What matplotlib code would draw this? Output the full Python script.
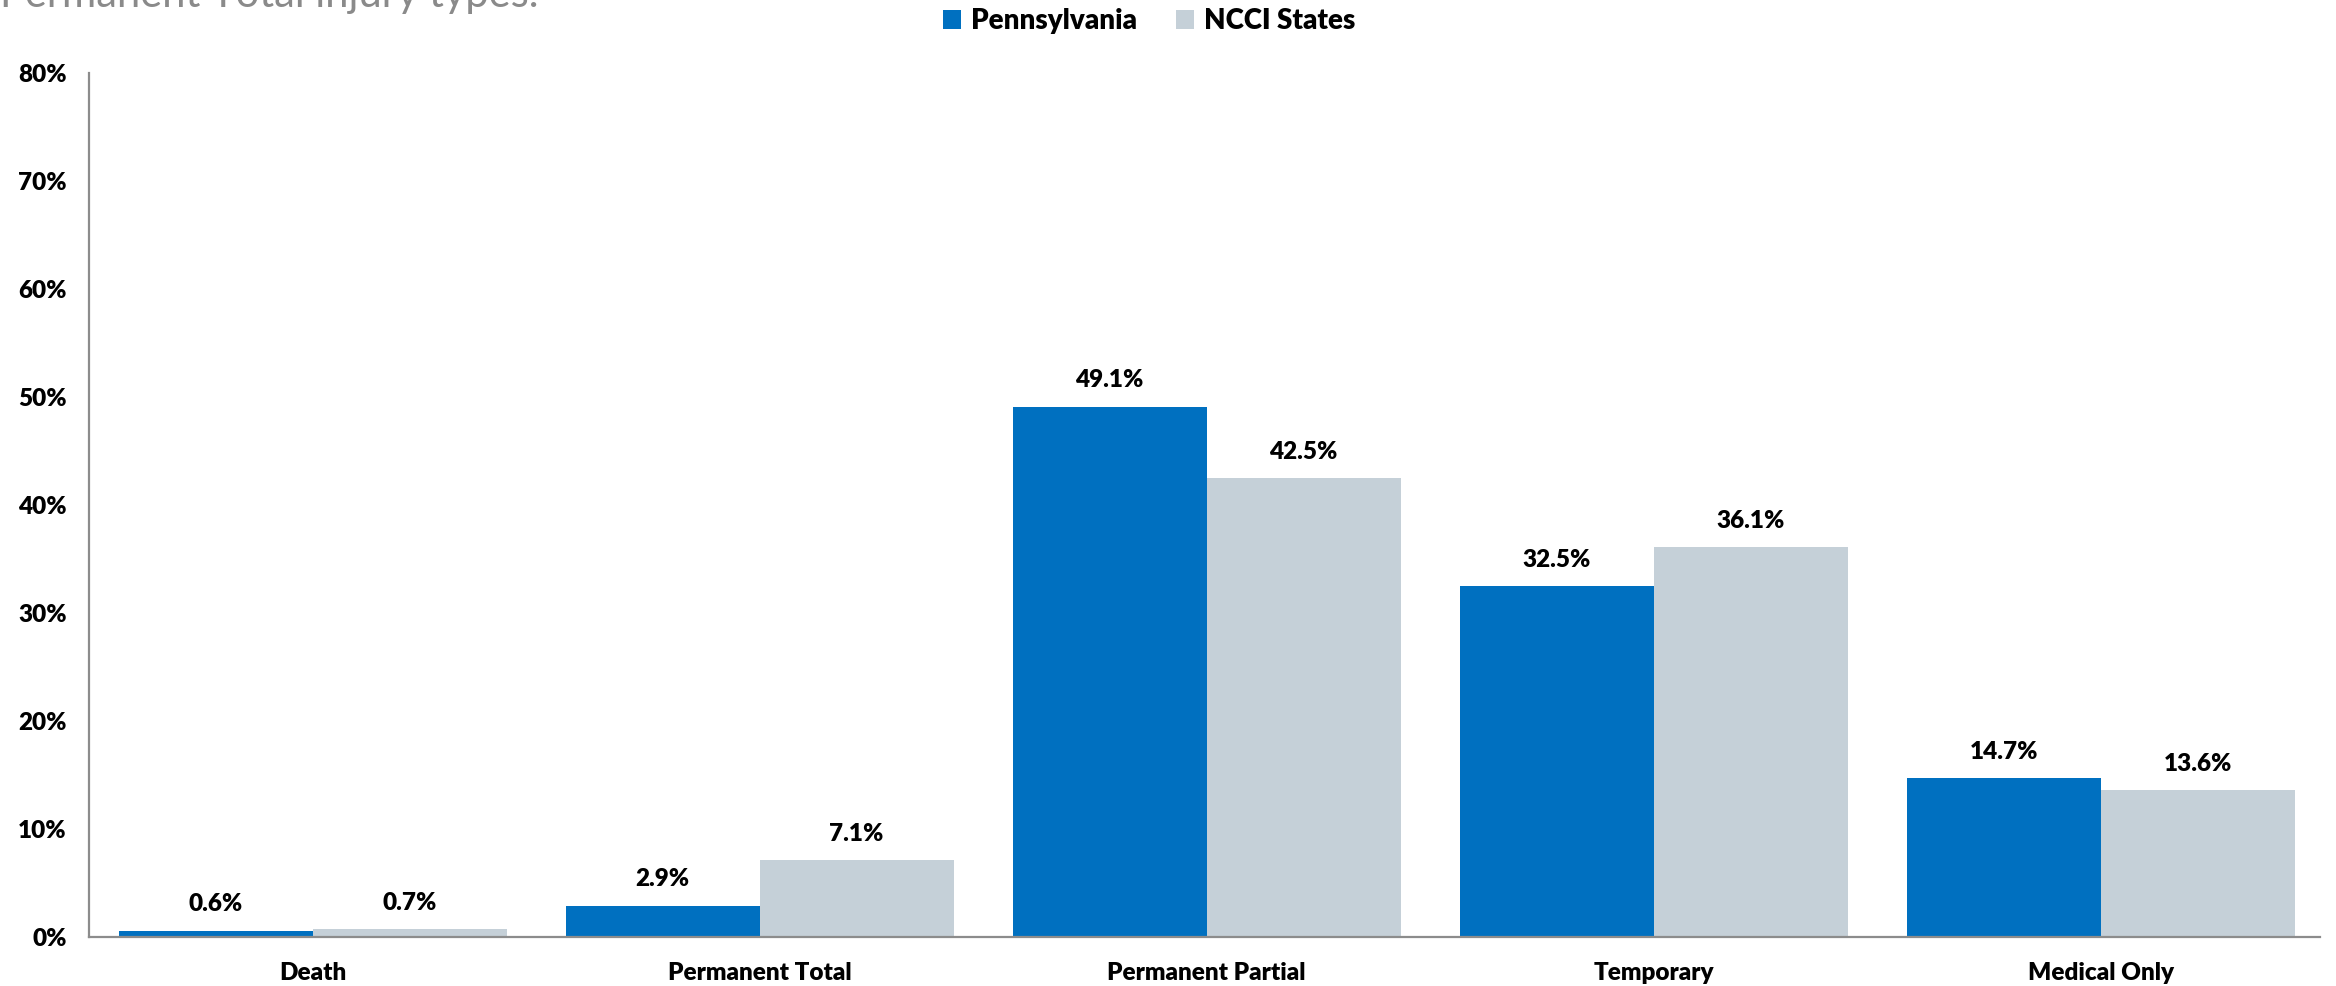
import matplotlib.pyplot as plt
import numpy as np

categories = ["Death", "Permanent Total", "Permanent Partial", "Temporary", "Medical Only"]
pennsylvania = [0.6, 2.9, 49.1, 32.5, 14.7]
ncci_states = [0.7, 7.1, 42.5, 36.1, 13.6]
y_ticks = [0, 10, 20, 30, 40, 50, 60, 70, 80]

blue = "#0070C0"
gray = "#C5D0D8"

plt.rcParams["font.family"] = ["Lato", "DejaVu Sans"]

fig = plt.figure(figsize=(23.36, 9.86), dpi=100)
ax = fig.add_axes([0.0381, 0.0497, 0.955, 0.8763])

x = np.arange(len(categories))
w = 0.434
b1 = ax.bar(x - w / 2, pennsylvania, w, color=blue, label="Pennsylvania")
b2 = ax.bar(x + w / 2, ncci_states, w, color=gray, label="NCCI States")

for bars, vals in ((b1, pennsylvania), (b2, ncci_states)):
    for rect, v in zip(bars, vals):
        ax.annotate(f"{v:.1f}%", (rect.get_x() + rect.get_width() / 2, v),
                    xytext=(0, 19), textcoords="offset points",
                    ha="center", va="center", fontsize=17.5, fontweight="heavy")

ax.set_xlim(-0.5, 4.49)
ax.set_ylim(0, 80)
ax.set_yticks(y_ticks)
ax.set_yticklabels([f"{t}%" for t in y_ticks])
ax.set_xticks(x)
ax.set_xticklabels(categories)
ax.tick_params(axis="both", length=0, labelsize=17.5)
ax.tick_params(axis="y", pad=16)
ax.tick_params(axis="x", pad=18)
for lab in ax.get_xticklabels() + ax.get_yticklabels():
    lab.set_fontweight("heavy")

for s in ("top", "right"):
    ax.spines[s].set_visible(False)
for s in ("left", "bottom"):
    ax.spines[s].set_color("#8c8c8c")
    ax.spines[s].set_linewidth(1.6)

fig.legend(loc="center", bbox_to_anchor=(0.492, 1 - 21 / 986), ncol=2, frameon=False,
           prop={"weight": "heavy", "size": 20}, handlelength=0.65, handleheight=0.65,
           columnspacing=1.4, handletextpad=0.35, borderpad=0)

# heading above the chart, mostly outside the canvas
fig.text(0.0, 1 - 7 / 986, "Permanent Total injury types.", ha="left", va="baseline",
         fontsize=30, color="#8a8a8a")

fig.savefig("out.png", dpi=100)
